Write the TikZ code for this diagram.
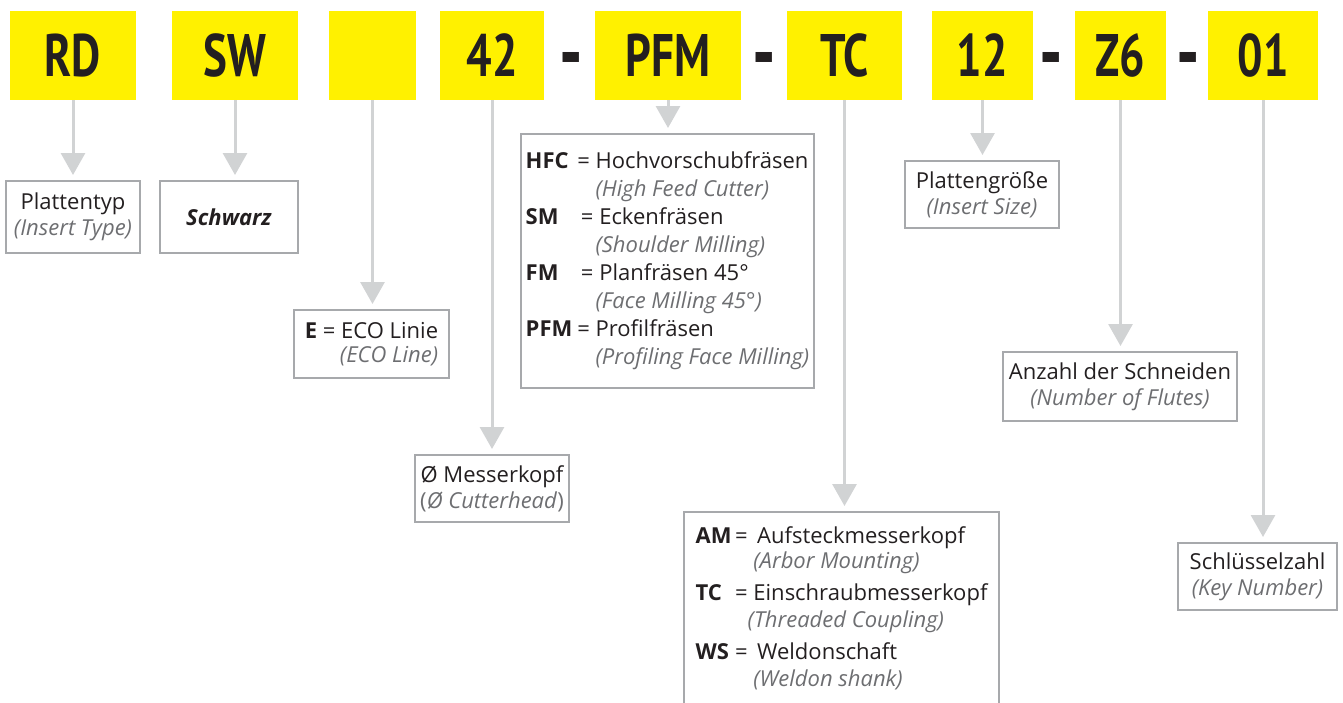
\documentclass[tikz,border=0pt]{standalone}
\usepackage{fontspec}
\setmainfont{Open Sans}
\newfontfamily\codefont[FakeStretch=0.75]{PT Sans}
\usetikzlibrary{arrows.meta}
\definecolor{codeyellow}{HTML}{FFF100}
\definecolor{textblack}{HTML}{231F20}
\definecolor{textgray}{HTML}{6D6E71}
\definecolor{linegray}{HTML}{D1D3D4}
\definecolor{framegray}{HTML}{A7A9AC}
\newcommand\eng[1]{\textcolor{textgray}{\textit{#1}}}

\begin{document}
\begin{tikzpicture}[x=1pt, y=-1pt,
  codebox/.style={fill=codeyellow, inner sep=0, minimum height=89pt, text height=42pt, text depth=0pt,
    text=textblack, font=\codefont\bfseries\fontsize{60}{60}\selectfont},
  dashmark/.style={codebox, fill=none, minimum height=0pt},
  infobox/.style={draw=framegray, line width=2pt, inner sep=0, align=center,
    text=textblack, font=\fontsize{22}{26}\selectfont},
  lead/.style={draw=linegray, line width=3pt, -{Triangle[width=24pt, length=22pt]}, shorten >=5pt}]
\useasboundingbox (0,0) rectangle (1343,702);
\def\code{node [codebox] }
\def\info{node [infobox] }
\def\hyph{\raisebox{-5.5pt}{\scalebox{1.45}{-}}}

% type code
\draw (73,55.5) \code (rd) [minimum width=126pt] {RD};
\draw (235,55.5) \code (sw) [minimum width=126pt] {SW};
\draw (372.5,55.5) \code (blank) [minimum width=87pt] {};
\draw (492,55.5) \code (dia) [minimum width=104pt] {42};
\draw (668,55.5) \code (pfm) [minimum width=146pt] {PFM};
\draw (844.5,55.5) \code (tc) [minimum width=115pt] {TC};
\draw (982.5,55.5) \code (size) [minimum width=101pt] {12};
\draw (1120.5,55.5) \code (z6) [minimum width=91pt] {Z6};
\draw (1263,55.5) \code (key) [minimum width=110pt] {01};

\node [dashmark] (d1) at (571,55.5) {\hyph};
\node [dashmark] (d2) at (764.5,55.5) {\hyph};
\node [dashmark] (d3) at (1051.5,55.5) {\hyph};
\node [dashmark] (d4) at (1188.5,55.5) {\hyph};

% explanations
\draw (73,217) \info (typebox) [minimum width=134pt, minimum height=72pt]
  {Plattentyp\\\eng{(Insert Type)}};
\draw (229,217) \info (swbox) [minimum width=138pt, minimum height=72pt]
  {\textbf{\textit{Schwarz}}};
\draw (371.5,344) \info (ecobox) [minimum width=155pt, minimum height=68pt, align=right,
  font=\fontsize{22}{24}\selectfont]
  {\textbf{E} = ECO Linie\\\eng{(ECO Line)}};
\draw (492,488.5) \info (diabox) [minimum width=154pt, minimum height=67pt]
  {Ø Messerkopf\\\textcolor{textgray}{(\textit{Ø Cutterhead})}};
\draw (667.5,261) \info (pfmbox) [minimum width=293pt, minimum height=254pt, align=left,
  font=\fontsize{22}{28}\selectfont]
  {\begin{tabular}{@{}l@{\hspace{5pt}}l@{}}
   \textbf{HFC} & = Hochvorschubfräsen\\
   & \phantom{= }\eng{(High Feed Cutter)}\\
   \textbf{SM} & \,= Eckenfräsen\\
   & \phantom{= }\eng{(Shoulder Milling)}\\
   \textbf{FM} & \,= Planfräsen 45°\\
   & \phantom{= }\eng{(Face Milling 45°)}\\
   \textbf{PFM} & = Profilfräsen\\
   & \phantom{= }\eng{(Profiling Face Milling)}
   \end{tabular}};
\draw (841.5,609) \info (tcbox) [minimum width=315pt, minimum height=194pt, align=left,
  font=\fontsize{22}{28}\selectfont]
  {\begin{tabular}{@{}l@{\,}l@{}}
   \textbf{AM} & = \,Aufsteckmesserkopf\\[-3pt]
   & \phantom{= }\eng{(Arbor Mounting)}\\[4pt]
   \textbf{TC} & = Einschraubmesserkopf\\[-1pt]
   & \phantom{=}\eng{(Threaded Coupling)}\\[4pt]
   \textbf{WS} & = \,Weldonschaft\\[-1pt]
   & \phantom{= }\eng{(Weldon shank)}
   \end{tabular}};
\draw (982,194.5) \info (sizebox) [minimum width=154pt, minimum height=67pt]
  {Plattengröße\\\eng{(Insert Size)}};
\draw (1120,386.5) \info (flutebox) [minimum width=234pt, minimum height=69pt]
  {Anzahl der Schneiden\\\eng{(Number of Flutes)}};
\draw (1257.5,576.5) \info (keybox) [minimum width=159pt, minimum height=67pt]
  {Schlüsselzahl\\\eng{(Key Number)}};

% leads
\draw [lead] (rd.south) -- (rd.south |- typebox.north);
\draw [lead] (sw.south) -- (sw.south |- swbox.north);
\draw [lead] (blank.south) -- (blank.south |- ecobox.north);
\draw [lead] (dia.south) -- (dia.south |- diabox.north);
\draw [lead] (pfm.south) -- (pfm.south |- pfmbox.north);
\draw [lead] (tc.south) -- (tc.south |- tcbox.north);
\draw [lead] (size.south) -- (size.south |- sizebox.north);
\draw [lead] (z6.south) -- (z6.south |- flutebox.north);
\draw [lead] (key.south) -- (key.south |- keybox.north);

\end{tikzpicture}
\end{document}
